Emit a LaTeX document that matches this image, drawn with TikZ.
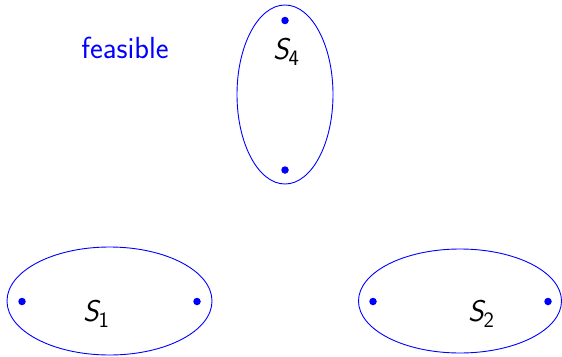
\documentclass[tikz,border=0pt]{standalone}
\usepackage{fontspec}
\usetikzlibrary{shapes.geometric}
\newcommand{\setlbl}[2]{{\fontsize{30}{34}\selectfont\sffamily\itshape #1}{\fontsize{22}{26}\selectfont\sffamily\raisebox{-0.25em}{#2}}}
\begin{document}
\begin{tikzpicture}[x=1pt,y=-1pt,
  setell/.style={draw=blue, line width=0.9pt, ellipse, inner sep=0pt},
  pt/.style={circle, fill=blue, inner sep=0pt, minimum size=7.5pt},
  lbl/.style={inner sep=0pt, anchor=center}]
\useasboundingbox (0,0) rectangle (562,356);
\node[setell, minimum width=96pt, minimum height=179pt] (s4) at (285,94.5) {};
\node[setell, minimum width=205pt, minimum height=108pt] (s1) at (109.5,301) {};
\node[setell, minimum width=203pt, minimum height=104pt] (s2) at (460,301) {};
\node[pt] (p4a) at (285,20.5) {};
\node[pt] (p4b) at (285,170) {};
\node[pt] (p1a) at (22,301.5) {};
\node[pt] (p1b) at (197,301.5) {};
\node[pt] (p2a) at (373,301.5) {};
\node[pt] (p2b) at (548,301.5) {};
\node[lbl] (l4) at (286,52) {\setlbl{S}{4}};
\node[lbl] (l1) at (96,314) {\setlbl{S}{1}};
\node[lbl] (l2) at (481,314) {\setlbl{S}{2}};
\node[lbl, text=blue, font=\fontsize{30.5}{34}\selectfont\sffamily] (feas) at (125,48) {feasible};
\end{tikzpicture}
\end{document}
